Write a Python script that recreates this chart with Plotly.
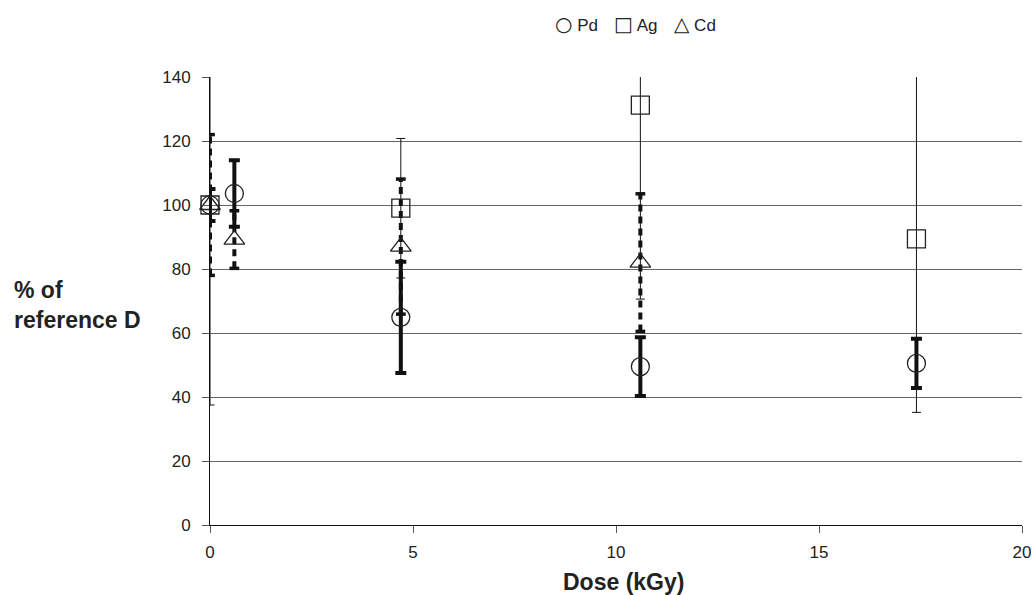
import plotly.graph_objects as go

# Relative D (% of reference) versus absorbed dose
dose_pd = [0, 0.6, 4.7, 10.6, 17.4]
pd_val = [100, 103.6, 64.9, 49.5, 50.5]
pd_err = [5, 10.4, 17.4, 9.2, 7.7]

dose_ag = [0, 4.7, 10.6, 17.4]
ag_val = [100, 99, 131.2, 89.4]
ag_err = [62.5, 21.8, 60.6, 54.2]

dose_cd = [0, 0.6, 4.7, 10.6]
cd_val = [100, 89.2, 87, 82]
cd_err = [22, 9, 21.1, 21.5]

x_ticks = [0, 5, 10, 15, 20]
y_ticks = [0, 20, 40, 60, 80, 100, 120, 140]

FONT = "Liberation Sans, Arial, sans-serif"
SYM_FONT = "DejaVu Sans"
fig = go.Figure()

# Pd: thick solid error bars
fig.add_trace(go.Scatter(
    x=dose_pd, y=pd_val, mode="markers", name="Pd", showlegend=False,
    marker=dict(size=1, color="rgba(0,0,0,0)"),
    error_y=dict(type="data", array=pd_err, visible=True, color="#111",
                 thickness=4, width=5.5),
))
# Ag: thin solid error bars
fig.add_trace(go.Scatter(
    x=dose_ag, y=ag_val, mode="markers", name="Ag", showlegend=False,
    marker=dict(size=1, color="rgba(0,0,0,0)"),
    error_y=dict(type="data", array=ag_err, visible=True, color="#111",
                 thickness=1, width=4.5),
))

# Cd: thick dashed error bars built from the value/error arrays
cd_x, cd_y = [], []
for x, v, e in zip(dose_cd, cd_val, cd_err):
    cd_x += [x, x, None]
    cd_y += [v - e, v + e, None]
fig.add_trace(go.Scatter(
    x=cd_x, y=cd_y, mode="lines", showlegend=False, hoverinfo="skip",
    line=dict(color="#111", width=4, dash="7px,5px"),
))
fig.add_trace(go.Scatter(
    x=dose_cd + dose_cd,
    y=[v - e for v, e in zip(cd_val, cd_err)] + [v + e for v, e in zip(cd_val, cd_err)],
    mode="markers", showlegend=False, hoverinfo="skip",
    marker=dict(symbol="line-ew", size=7, line=dict(color="#111", width=3.5)),
))

# Open markers on top
for name, xs, ys, sym in [("Pd", dose_pd, pd_val, "circle-open"),
                          ("Ag", dose_ag, ag_val, "square-open"),
                          ("Cd", dose_cd, cd_val, "triangle-up-open")]:
    fig.add_trace(go.Scatter(
        x=xs, y=ys, mode="markers", name=name, cliponaxis=False, showlegend=False,
        marker=dict(symbol=sym, size=18, color="#222", line=dict(width=1.3, color="#222")),
    ))

# series key above the plot
key_items = [("○", "Pd", 0.4225), ("□", "Ag", 0.4955), ("△", "Cd", 0.5685)]
key_ann = [dict(text=f"<span style='font-family:{SYM_FONT};font-size:20px'>{s}</span> {n}",
                xref="paper", yref="paper", x=xp, y=1.1183,
                xanchor="left", yanchor="middle", showarrow=False,
                font=dict(size=17, family=FONT, color="#222"))
           for s, n, xp in key_items]

fig.update_layout(
    width=1035, height=595,
    margin=dict(l=210, r=13, t=77, b=70),
    paper_bgcolor="white", plot_bgcolor="white",
    font=dict(family=FONT, size=17, color="#222"),
    showlegend=False,
    xaxis=dict(range=[0, 20], tickvals=x_ticks, showgrid=False, zeroline=False,
               showline=True, linecolor="#111", linewidth=1, automargin=False,
               ticks="outside", ticklen=7, tickcolor="#555", ticklabelstandoff=5),
    yaxis=dict(range=[0, 140], tickvals=y_ticks, showgrid=True, gridcolor="#666",
               gridwidth=1, zeroline=False, showline=True, linecolor="#111",
               linewidth=1, ticks="outside", ticklen=7, tickcolor="#555",
               ticklabelstandoff=8, automargin=False),
    annotations=[
        dict(text="<b>% of<br>reference D</b>", xref="paper", yref="paper",
             x=-0.2438, y=0.491, xanchor="left", yanchor="middle",
             align="left", showarrow=False, font=dict(size=23)),
        dict(text="<b>Dose (kGy)</b>", xref="paper", yref="paper",
             x=0.5095, y=-0.1272, xanchor="center", yanchor="middle",
             showarrow=False, font=dict(size=23)),
    ] + key_ann,
)

fig.write_html("out.html")
